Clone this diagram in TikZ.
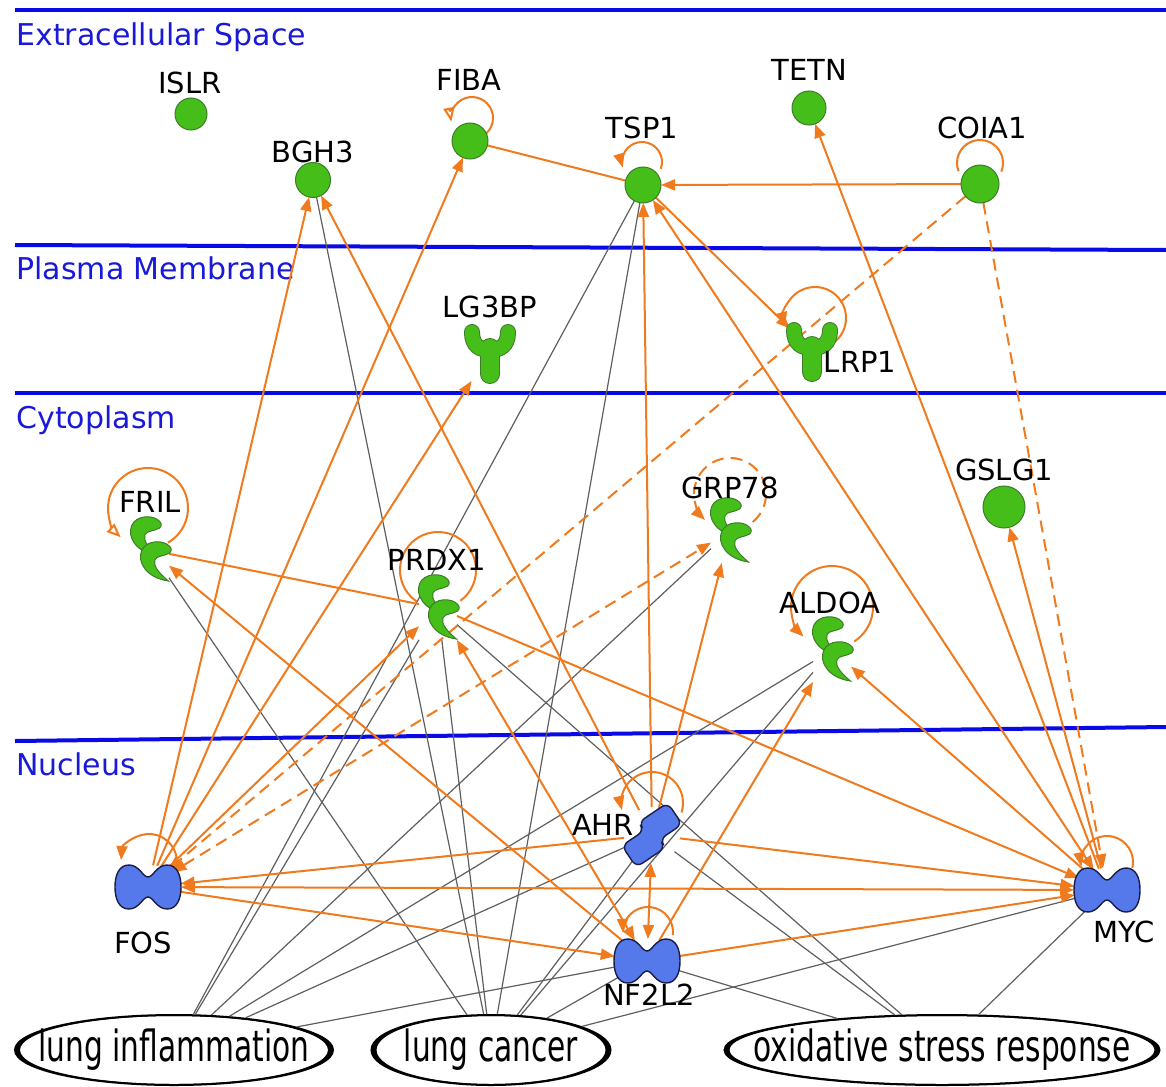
\documentclass[tikz,border=0pt]{standalone}
\usepackage{fontspec}
\setmainfont{DejaVu Sans}
\usetikzlibrary{arrows.meta,shapes.geometric}
\definecolor{ipagreen}{RGB}{70,190,25}
\definecolor{ipagreenD}{RGB}{60,125,40}
\definecolor{ipablue}{RGB}{85,120,235}
\definecolor{ipanavy}{RGB}{25,30,70}
\definecolor{ipaorange}{RGB}{240,122,30}
\definecolor{ipagrey}{RGB}{95,95,95}
\definecolor{ipaline}{RGB}{10,10,230}
\definecolor{ipatext}{RGB}{25,25,215}
\newcommand\ipaloop[7]{%
  \draw[#1] ([shift={({#3+#5*cos(#6)},{#4+#5*sin(#6)})}]#2.center) arc[start angle=#6, end angle=#7, radius=#5];}
\newcommand\ipaband[3]{%
  \fill[black, even odd rule] (#1.center) ellipse[x radius=#2, y radius=#3] (#1.center) ellipse[x radius={#2-5}, y radius={#3-1}];}
\tikzset{
  orgln/.style={draw=ipaorange, line width=1pt},
  orgto/.style={orgln, -{Triangle[length=7pt,width=5.5pt]}},
  orgbi/.style={orgln, {Triangle[length=7pt,width=5.5pt]}-{Triangle[length=7pt,width=5.5pt]}},
  orgopen/.style={orgln, -{Triangle[open,length=7pt,width=5.5pt]}},
  orgdashed/.style={dash pattern=on 6pt off 3.5pt},
  gryln/.style={draw=ipagrey, line width=0.6pt},
  divider/.style={draw=ipaline, line width=2pt},
  regionlbl/.style={text=ipatext, font=\fontsize{15}{18}\selectfont, anchor=base west, inner sep=0pt},
  genelbl/.style={font=\fontsize{14.5}{17}\selectfont, inner sep=0pt},
  dtext/.style={font=\fontsize{21.5}{24}\selectfont, inner sep=0pt},
  hit/.style={inner sep=0pt, outer sep=0pt},
  disease/.style={ellipse, draw=black, line width=1pt, inner sep=0pt, minimum height=35pt},
  gfill/.style={fill=ipagreen, draw=ipagreenD, line width=0.5pt},
  bfill/.style={fill=ipablue, draw=ipanavy, line width=0.7pt},
  pics/ipaY/.style={code={
    \draw[ipagreenD, line width=8pt, line cap=round] (-18,-20) .. controls (-18,-6) and (-10,-2) .. (0,-2) .. controls (10,-2) and (18,-6) .. (18,-20);
    \draw[ipagreenD, line width=10pt, line cap=round] (0,-4) -- (0,22);
    \draw[ipagreen, line width=7pt, line cap=round] (-18,-20) .. controls (-18,-6) and (-10,-2) .. (0,-2) .. controls (10,-2) and (18,-6) .. (18,-20);
    \draw[ipagreen, line width=9pt, line cap=round] (0,-4) -- (0,22);
  }},
  pics/ipahook/.style={code={
    \filldraw[gfill] (13,-14) .. controls (8,-20) and (-8,-20) .. (-12,-10) .. controls (-16,0) and (-8,14) .. (12,17) .. controls (4,10) and (-2,4) .. (0,-2) .. controls (2,-6) and (8,-5) .. (13,-8) .. controls (15,-10) and (15,-12) .. (13,-14) -- cycle;
  }},
  pics/ipaenz/.style={code={
    \pic[scale=1.12] at (-5,-13) {ipahook};
    \pic[scale=1.12] at (5,12) {ipahook};
  }},
  pics/ipatf/.style={code={
    \filldraw[bfill] (0,-10) .. controls (-5,-10) and (-9,-22) .. (-19,-22) .. controls (-29,-22) and (-33,-12) .. (-33,0) .. controls (-33,12) and (-29,22) .. (-19,22) .. controls (-9,22) and (-5,10) .. (0,10) .. controls (5,10) and (9,22) .. (19,22) .. controls (29,22) and (33,12) .. (33,0) .. controls (33,-12) and (29,-22) .. (19,-22) .. controls (9,-22) and (5,-10) .. (0,-10) -- cycle;
  }},
  pics/ipaahr/.style={code={
    \filldraw[bfill, rounded corners=3.5pt, rotate=34] (-31,-8) -- (-4,-8) -- (-4,-18) -- (31,-18) -- (31,8) -- (4,8) -- (4,18) -- (-31,18) -- cycle;
  }},
}
\begin{document}
\begin{tikzpicture}[x=0.5pt,y=-0.5pt]
\useasboundingbox (0,0) rectangle (1166,1086);
\fill[white] (0,0) rectangle (1166,1086);
% compartment dividers
\draw[divider] (15,10) -- (1166,10);
\draw[divider] (15,245) -- (1166,250);
\draw[divider] (15,393) -- (1166,393);
\draw[divider] (15,741) -- (1166,727);
\node[regionlbl] (rES) at (16,46) {Extracellular Space};
\node[regionlbl] (rPM) at (16,279) {Plasma Membrane};
\node[regionlbl] (rCY) at (16,428) {Cytoplasm};
\node[regionlbl] (rNU) at (16,775) {Nucleus};
% node anchors
\node[hit, circle, minimum size=16pt] (islr) at (191,114) {};
\node[hit, circle, minimum size=17.5pt] (bgh3) at (313,180) {};
\node[hit, circle, minimum size=18pt] (fiba) at (470,141) {};
\node[hit, circle, minimum size=18pt] (tsp1) at (643,185) {};
\node[hit, circle, minimum size=17pt] (tetn) at (809,108) {};
\node[hit, circle, minimum size=19pt] (coia1) at (980,184) {};
\node[hit, circle, minimum size=21pt] (gslg1) at (1004,507) {};
\node[hit, minimum width=22pt, minimum height=29pt] (lg3bp) at (490,352) {};
\node[hit, minimum width=22pt, minimum height=29pt] (lrp1) at (812,350) {};
\node[hit, minimum width=19pt, minimum height=32pt] (fril) at (150,550) {};
\node[hit, minimum width=19pt, minimum height=32pt] (prdx1) at (438,608) {};
\node[hit, minimum width=19pt, minimum height=32pt] (grp78) at (730,531) {};
\node[hit, minimum width=19pt, minimum height=32pt] (aldoa) at (832,650) {};
\node[hit, circle, minimum size=28pt] (ahr) at (652,835) {};
\node[hit, ellipse, minimum width=33pt, minimum height=22pt] (fos) at (148,887) {};
\node[hit, ellipse, minimum width=33pt, minimum height=22pt] (nf2l2) at (647,961) {};
\node[hit, ellipse, minimum width=33pt, minimum height=22pt] (myc) at (1107,890) {};
\node[disease, minimum width=159pt] (li) at (174,1050) {};
\node[disease, minimum width=119.5pt] (lc) at (491,1050) {};
\node[disease, minimum width=217.5pt] (osr) at (942,1050) {};
\ipaband{li}{159}{35}
\ipaband{lc}{119.5}{35}
\ipaband{osr}{217.5}{35}
% grey associations
\foreach \a/\b in {bgh3/lc, tsp1/li, tsp1/lc, fril/lc, prdx1/li, prdx1/lc, prdx1/osr, grp78/li, aldoa/li, aldoa/lc, ahr/li, ahr/lc, ahr/osr, nf2l2/li, nf2l2/lc, nf2l2/osr, myc/lc, myc/osr}
  \draw[gryln] (\a) -- (\b);
% orange relations
\draw[orgln] (fiba) -- (tsp1);
\draw[orgto] (coia1) -- (tsp1);
\draw[orgto] (fos) -- (bgh3);
\draw[orgto] (fos) -- (fiba);
\draw[orgto] (fos) -- (lg3bp);
\draw[orgto] (fos) -- (prdx1);
\draw[orgto] (ahr) -- (bgh3);
\draw[orgto] (ahr) -- (tsp1);
\draw[orgbi] (myc) -- (tsp1);
\draw[orgto] (tsp1) -- (lrp1);
\draw[orgto] (myc) -- (tetn);
\draw[orgto] (myc) -- (gslg1);
\draw[orgto] (myc) -- (aldoa);
\draw[orgto] (nf2l2) -- (aldoa);
\draw[orgto] (ahr) -- (grp78);
\draw[orgbi] (ahr) -- (nf2l2);
\draw[orgto] (ahr) -- (fos);
\draw[orgto] (ahr) -- (myc);
\draw[orgbi] (fos) -- (myc);
\draw[orgto] (fos) -- (nf2l2);
\draw[orgto] (nf2l2) -- (myc);
\draw[orgto] (nf2l2) -- (fril);
\draw[orgbi] (prdx1) -- (nf2l2);
\draw[orgto] (prdx1) -- (myc);
\draw[orgln] (fril) -- (prdx1);
\draw[orgto, orgdashed] (coia1) -- (fos);
\draw[orgto, orgdashed] (coia1) -- (myc);
\draw[orgbi, orgdashed] (fos) -- (grp78);
% self loops
\ipaloop{orgopen}{fiba}{2}{-23}{21}{47}{-190}
\ipaloop{orgto}{tsp1}{-1}{-23}{20}{20}{-196}
\ipaloop{orgln}{coia1}{0}{-21}{23}{159}{382}
\ipaloop{orgto}{lrp1}{3}{-32}{31}{49}{-195}
\ipaloop{orgopen}{fril}{-2}{-42}{40}{60}{-227}
\ipaloop{orgln}{prdx1}{0}{-38}{38}{54}{-236}
\ipaloop{{orgto, orgdashed}}{grp78}{0}{-37}{36}{51}{-226}
\ipaloop{orgto}{aldoa}{0}{-43}{41}{57}{-226}
\ipaloop{orgto}{ahr}{0}{-32}{31}{18}{-193}
\ipaloop{orgto}{nf2l2}{1}{-29}{25}{7}{-182}
\ipaloop{orgto}{myc}{0}{-28}{26}{13}{-190}
\ipaloop{orgto}{fos}{1}{-25}{28}{-4}{-176}
% shapes
\filldraw[gfill] (islr) circle[radius=16];
\filldraw[gfill] (bgh3) circle[radius=17.5];
\filldraw[gfill] (fiba) circle[radius=18];
\filldraw[gfill] (tsp1) circle[radius=18];
\filldraw[gfill] (tetn) circle[radius=17];
\filldraw[gfill] (coia1) circle[radius=19];
\filldraw[gfill] (gslg1) circle[radius=21];
\pic at (lg3bp) {ipaY};
\pic at (lrp1) {ipaY};
\pic at (fril) {ipaenz};
\pic at (prdx1) {ipaenz};
\pic at (grp78) {ipaenz};
\pic at (aldoa) {ipaenz};
\pic at (ahr) {ipaahr};
\pic at (fos) {ipatf};
\pic at (nf2l2) {ipatf};
\pic at (myc) {ipatf};
% labels
\node[genelbl] (islrL) at (190,83) {ISLR};
\node[genelbl] (bgh3L) at (313,152) {BGH3};
\node[genelbl] (fibaL) at (469,80) {FIBA};
\node[genelbl] (tsp1L) at (642,128) {TSP1};
\node[genelbl] (tetnL) at (809,70) {TETN};
\node[genelbl] (coia1L) at (982,128) {COIA1};
\node[genelbl] (lg3bpL) at (490,307) {LG3BP};
\node[genelbl] (lrp1L) at (860,362) {LRP1};
\node[genelbl] (gslg1L) at (1004,470) {GSLG1};
\node[genelbl] (frilL) at (150,502) {FRIL};
\node[genelbl] (prdx1L) at (437,560) {PRDX1};
\node[genelbl] (grp78L) at (730,488) {GRP78};
\node[genelbl] (aldoaL) at (830,603) {ALDOA};
\node[genelbl] (ahrL) at (603,825) {AHR};
\node[genelbl] (fosL) at (143,943) {FOS};
\node[genelbl] (nf2l2L) at (649,995) {NF2L2};
\node[genelbl] (mycL) at (1124,932) {MYC};
\node[dtext] (liT) at (li) {\scalebox{0.69}[1]{lung inflammation}};
\node[dtext] (lcT) at (lc) {\scalebox{0.69}[1]{lung cancer}};
\node[dtext] (osrT) at (osr) {\scalebox{0.69}[1]{oxidative stress response}};
\end{tikzpicture}
\end{document}
